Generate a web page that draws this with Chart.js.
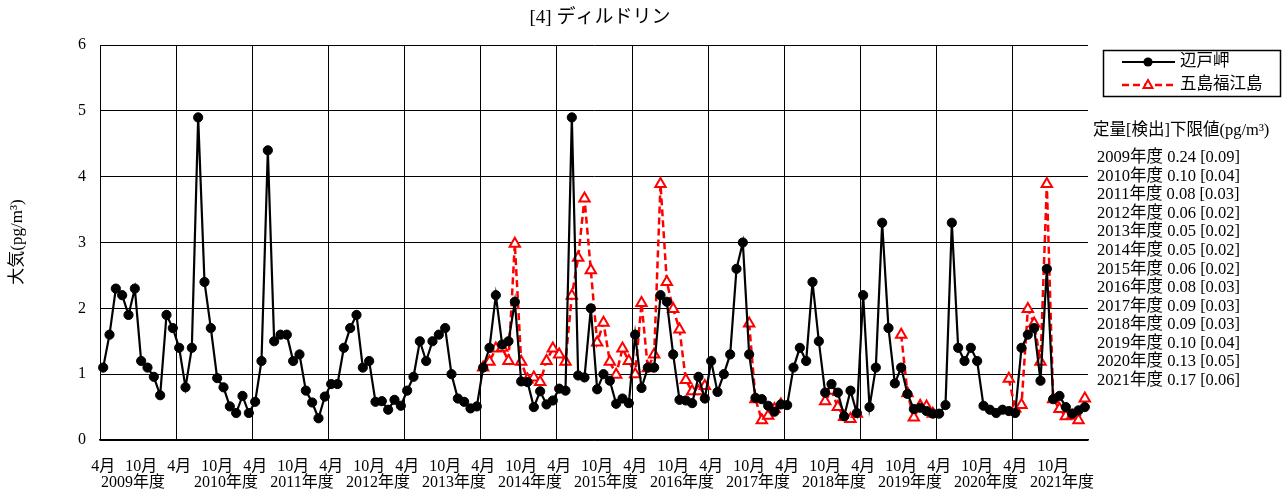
<!DOCTYPE html>
<html><head><meta charset="utf-8">
<script src="https://cdn.jsdelivr.net/npm/chart.js@4.4.1/dist/chart.umd.min.js"></script>
<style>html,body{margin:0;padding:0;background:#fff;}#wrap{position:relative;width:1284px;height:495px;}</style>
</head><body><div id="wrap"><canvas id="c" width="1284" height="495"></canvas></div>
<script>
const chartTitle = '[4] ディルドリン';
const yAxisTitle = '大気(pg/m³)';
const fiscalYears = [2009,2010,2011,2012,2013,2014,2015,2016,2017,2018,2019,2020,2021];
const monthNames = ['4月','5月','6月','7月','8月','9月','10月','11月','12月','1月','2月','3月'];
const seriesNames = ['辺戸岬','五島福江島'];
const hedo = [
 1.10,1.60,2.30,2.20,1.90,2.30,1.20,1.10,0.96,0.68,1.90,1.70,
 1.40,0.80,1.40,4.90,2.40,1.70,0.94,0.80,0.51,0.41,0.67,0.41,
 0.58,1.20,4.40,1.50,1.60,1.60,1.20,1.30,0.75,0.57,0.33,0.66,
 0.85,0.85,1.40,1.70,1.90,1.10,1.20,0.58,0.59,0.46,0.61,0.52,
 0.75,0.96,1.50,1.20,1.50,1.60,1.70,1.00,0.63,0.58,0.48,0.51,
 1.10,1.40,2.20,1.45,1.50,2.10,0.89,0.88,0.50,0.74,0.54,0.60,
 0.78,0.75,4.90,0.98,0.95,2.00,0.77,1.00,0.90,0.55,0.63,0.56,
 1.60,0.79,1.10,1.10,2.20,2.10,1.30,0.61,0.60,0.56,0.96,0.63,
 1.20,0.73,1.00,1.30,2.60,3.00,1.30,0.64,0.62,0.52,0.43,0.54,
 0.53,1.10,1.40,1.20,2.40,1.50,0.72,0.85,0.72,0.36,0.75,0.41,
 2.20,0.50,1.10,3.30,1.70,0.86,1.10,0.70,0.47,0.49,0.44,0.40,
 0.40,0.53,3.30,1.40,1.20,1.40,1.20,0.52,0.46,0.41,0.46,0.44,
 0.41,1.40,1.60,1.70,0.90,2.60,0.62,0.67,0.50,0.40,0.45,0.50
];
const fukue = [
 null,null,null,null,null,null,null,null,null,null,null,null,
 null,null,null,null,null,null,null,null,null,null,null,null,
 null,null,null,null,null,null,null,null,null,null,null,null,
 null,null,null,null,null,null,null,null,null,null,null,null,
 null,null,null,null,null,null,null,null,null,null,null,null,
 1.10,1.19,1.39,1.40,1.20,2.98,1.19,0.92,0.95,0.88,1.20,1.39,
 1.30,1.19,2.19,2.77,3.67,2.58,1.48,1.78,1.19,0.99,1.39,1.20,
 1.00,2.08,1.09,1.30,3.89,2.40,1.99,1.68,0.91,0.74,0.74,0.82,
 null,null,null,null,null,null,1.77,0.62,0.30,0.37,0.47,0.54,
 null,null,null,null,null,null,0.59,0.75,0.50,0.35,0.32,0.40,
 null,null,null,null,null,null,1.60,0.71,0.34,0.52,0.51,0.40,
 null,null,null,null,null,null,null,null,null,null,null,0.93,
 0.48,0.53,1.99,1.77,1.19,3.89,0.62,0.47,0.36,0.37,0.30,0.63
];
const limitHeader = '定量[検出]下限値(pg/m³)';
const quantLimits = ['0.24','0.10','0.08','0.06','0.05','0.05','0.06','0.08','0.09','0.09','0.10','0.13','0.17'];
const detectLimits = ['0.09','0.04','0.03','0.02','0.02','0.02','0.02','0.03','0.03','0.03','0.04','0.05','0.06'];

const categories = fiscalYears.flatMap(y => monthNames.map(m => y + '年度' + m));
const SERIF = '"Liberation Serif","Times New Roman","Noto Sans CJK JP",serif';

const decor = {
  id: 'decor',
  afterDraw(chart) {
    const ctx = chart.ctx;
    const xs = chart.scales.x;
    ctx.save();
    ctx.fillStyle = '#000';
    // title
    ctx.font = '19px ' + SERIF;
    ctx.textAlign = 'center'; ctx.textBaseline = 'middle';
    ctx.fillText(chartTitle, 600, 18);
    // y title
    ctx.save();
    ctx.translate(18, 242);
    ctx.rotate(-Math.PI / 2);
    ctx.font = '17px ' + SERIF;
    ctx.fillText(yAxisTitle, 0, 0);
    ctx.restore();
    // fiscal year labels
    ctx.font = '16px ' + SERIF;
    fiscalYears.forEach((y, k) => {
      const idx = k === 0 ? 4.7 : k * 12 + 7.4;
      ctx.fillText(y + '年度', xs.getPixelForValue(idx), 483);
    });
    // legend box
    ctx.lineWidth = 1.5; ctx.strokeStyle = '#000';
    ctx.strokeRect(1103.5, 50.5, 177, 46);
    ctx.textAlign = 'left';
    ctx.font = '16.5px ' + SERIF;
    // entry 1
    ctx.beginPath(); ctx.lineWidth = 2.2; ctx.strokeStyle = '#000';
    ctx.moveTo(1122, 62); ctx.lineTo(1175, 62); ctx.stroke();
    ctx.beginPath(); ctx.arc(1148, 62, 4.6, 0, Math.PI * 2); ctx.fill();
    ctx.fillText(seriesNames[0], 1180, 62);
    // entry 2
    ctx.beginPath(); ctx.lineWidth = 2.5; ctx.strokeStyle = '#ff0000';
    ctx.setLineDash([7, 4]);
    ctx.moveTo(1122, 85); ctx.lineTo(1175, 85); ctx.stroke();
    ctx.setLineDash([]);
    ctx.beginPath(); ctx.lineWidth = 2;
    ctx.moveTo(1148, 80); ctx.lineTo(1152.5, 88); ctx.lineTo(1143.5, 88); ctx.closePath();
    ctx.fillStyle = '#fff'; ctx.fill(); ctx.stroke();
    ctx.fillStyle = '#000';
    ctx.fillText(seriesNames[1], 1180, 85);
    // limits text
    ctx.font = '16.5px ' + SERIF;
    ctx.fillText(limitHeader, 1093, 131);
    fiscalYears.forEach((y, k) => {
      ctx.fillText(y + '年度 ' + quantLimits[k] + ' [' + detectLimits[k] + ']', 1097, 157.7 + k * 18.58);
    });
    ctx.restore();
  }
};

new Chart(document.getElementById('c').getContext('2d'), {
  type: 'line',
  data: {
    labels: categories,
    datasets: [
      { label: seriesNames[0], data: hedo, borderColor: '#000', backgroundColor: '#000', borderWidth: 2.2,
        pointStyle: 'circle', pointRadius: 4.6, pointBackgroundColor: '#000', pointBorderColor: '#000', pointBorderWidth: 1,
        tension: 0, spanGaps: false },
      { label: seriesNames[1], data: fukue, borderColor: '#ff0000', backgroundColor: '#fff', borderWidth: 2.5, borderDash: [7, 4],
        pointStyle: 'triangle', pointRadius: 6, pointBackgroundColor: '#fff', pointBorderColor: '#ff0000', pointBorderWidth: 2,
        tension: 0, spanGaps: false }
    ]
  },
  options: {
    responsive: false, animation: false, devicePixelRatio: 1,
    layout: { padding: { left: 0, right: 196, top: 45, bottom: 0 } },
    plugins: { legend: { display: false }, title: { display: false }, tooltip: { enabled: false } },
    scales: {
      x: {
        type: 'category', offset: true,
        grid: { offset: true, drawTicks: false, lineWidth: 1,
          color: c => (c.index % 12 === 0 ? '#000' : 'rgba(0,0,0,0)') },
        border: { display: true, color: '#000', width: 1.5 },
        ticks: { autoSkip: false, maxRotation: 0, minRotation: 0, padding: 17, color: '#000',
          font: { family: SERIF, size: 16 },
          callback: (v, i) => (i % 6 === 0 ? monthNames[i % 12] : '') },
        afterFit: s => { s.height = 55; }
      },
      y: {
        min: 0, max: 6,
        ticks: { stepSize: 1, padding: 14, color: '#000', font: { family: SERIF, size: 16 } },
        grid: { color: '#000', lineWidth: 1, drawTicks: false },
        border: { display: true, color: '#000', width: 1 },
        afterFit: s => { s.width = 100; }
      }
    }
  },
  plugins: [decor]
});
</script>
</body></html>
